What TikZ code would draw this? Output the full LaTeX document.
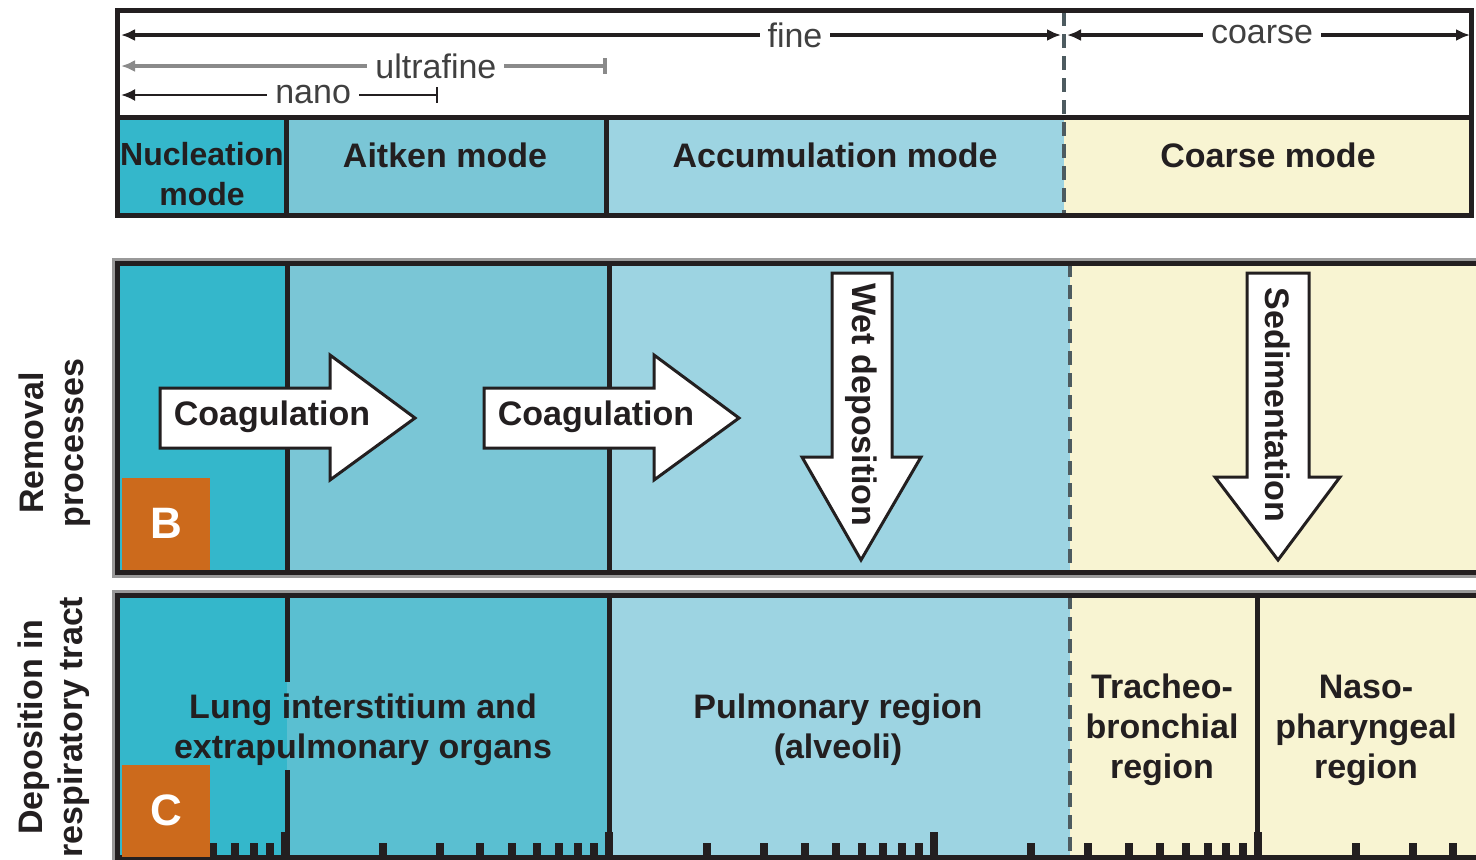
\documentclass[tikz,border=0pt]{standalone}
\usepackage{fontspec}
\setmainfont{Liberation Sans}
\usetikzlibrary{arrows.meta}
\definecolor{nucl}{HTML}{34B7CB}
\definecolor{aitken}{HTML}{7AC6D6}
\definecolor{aitkenC}{HTML}{5ABFD1}
\definecolor{accum}{HTML}{9DD4E2}
\definecolor{coarse}{HTML}{F8F4D2}
\definecolor{orng}{HTML}{CC6A1C}
\definecolor{ink}{HTML}{231F20}
\definecolor{dashgrey}{HTML}{4D5B60}
\definecolor{bargrey}{HTML}{8A8A8A}
\definecolor{edgegrey}{HTML}{999999}
\definecolor{txtgrey}{HTML}{404040}

\begin{document}
\begin{tikzpicture}[x=0.5pt,y=-0.5pt]
    \tikzset{%
      lbl/.style={font=\fontsize{17}{20}\selectfont\bfseries, text=ink,
        align=center, inner sep=0pt},
      scl/.style={font=\fontsize{17}{20}\selectfont, text=txtgrey,
        fill=white, inner sep=4pt},
      letter/.style={fill=orng, text=white, inner sep=0pt,
        font=\fontsize{22}{24}\selectfont\bfseries,
        minimum width=44pt, minimum height=46pt},
      frame/.style={draw=ink, line width=2.5pt},
      edge/.style={draw=edgegrey, line width=1.5pt},
      divider/.style={ink, line width=2.5pt},
      dashdiv/.style={dashgrey, line width=2pt, dash pattern=on 7pt off 4pt},
      block/.style={draw=ink, fill=white, line width=1.5pt, line join=miter},
      tick/.style={ink, line width=4pt},
    }
    \useasboundingbox (0,0) rectangle (1476,859);

    % size classes
    \fill[nucl] (117,117) rectangle (286,215);
    \fill[aitken] (286,117) rectangle (606,215);
    \fill[accum] (606,117) rectangle (1064,215);
    \fill[coarse] (1064,117) rectangle (1471,215);
    \draw[divider] (286,117) -- (286,215);
    \draw[divider] (606,117) -- (606,215);
    \draw[dashdiv] (1064,12) -- (1064,215);
    \draw[frame] (117,10) rectangle (1471,215);
    \draw[frame] (117,117) -- (1471,117);

    \coordinate (fineL) at (121,35);
    \coordinate (fineR) at (1061,35);
    \coordinate (coarseL) at (1067,35);
    \coordinate (coarseR) at (1470,35);
    \coordinate (ufL) at (121,66);
    \coordinate (ufR) at (607,66);
    \coordinate (nanoL) at (121,95);
    \coordinate (nanoR) at (438,95);
    \draw [ink, line width=2pt, {Latex[length=7pt,width=6pt]}-{Latex[length=7pt,width=6pt]}]
      (fineL) -- (fineR) node[scl, pos=0.717] (fine) {fine};
    \draw [ink, line width=2pt, {Latex[length=7pt,width=6pt]}-{Latex[length=7pt,width=6pt]}]
      (coarseL) -- (coarseR) node[scl, pos=0.484] (coarsetxt) {coarse};
    \draw [bargrey, line width=2pt, {Latex[length=7pt,width=6pt]}-{Bar[width=8pt]}]
      (ufL) -- (ufR) node[scl, pos=0.648] (ultrafine) {ultrafine};
    \draw [ink, line width=1.2pt, {Latex[length=7pt,width=6pt]}-{Bar[width=8pt]}]
      (nanoL) -- (nanoR) node[scl, pos=0.606] (nano) {nano};

    \node[lbl, font=\fontsize{16}{20}\selectfont\bfseries] (nucleation) at (202,174) {Nucleation\\mode};
    \node[lbl] (aitkenmode) at (445,155) {Aitken mode};
    \node[lbl] (accummode) at (835,155) {Accumulation mode};
    \node[lbl] (coarsemode) at (1268,155) {Coarse mode};

    % removal processes
    \fill[nucl] (117,263) rectangle (287,572);
    \fill[aitken] (287,263) rectangle (609,572);
    \fill[accum] (609,263) rectangle (1070,572);
    \fill[coarse] (1070,263) rectangle (1480,572);
    \draw[divider] (287,263) -- (287,572);
    \draw[divider] (609,263) -- (609,572);
    \draw[dashdiv] (1070,263) -- (1070,572);
    \draw[edge] (113,259) rectangle (1484,576);
    \draw[frame] (117,263) rectangle (1480,572);
    \node[letter, anchor=south west] (B) at (122,570) {B};

    \draw[block] (160,388) -- (330,388) -- (330,355) -- (415,418)
      -- (330,480) -- (330,448) -- (160,448) -- cycle;
    \node[lbl] (coag1) at (272,417) {Coagulation};
    \draw[block] (484,388) -- (654,388) -- (654,355) -- (739,418)
      -- (654,480) -- (654,448) -- (484,448) -- cycle;
    \node[lbl] (coag2) at (596,417) {Coagulation};
    \draw[block] (832,273) -- (892,273) -- (892,457) -- (921,457)
      -- (861,560) -- (802,457) -- (832,457) -- cycle;
    \node[lbl, rotate=-90] (wet) at (861,405) {Wet deposition};
    \draw[block] (1247,273) -- (1309,273) -- (1309,477) -- (1340,477)
      -- (1278,560) -- (1215,477) -- (1247,477) -- cycle;
    \node[lbl, rotate=-90] (sed) at (1278,405) {Sedimentation};

    % deposition
    \fill[nucl] (117,595) rectangle (287,857);
    \fill[aitkenC] (287,595) rectangle (609,857);
    \fill[accum] (609,595) rectangle (1070,857);
    \fill[coarse] (1070,595) rectangle (1480,857);
    \foreach \m in {6,...,9}{
      \draw[tick] ({285+324.3*(log10(\m)-1)},843) -- ++(0,14);
    }
    \foreach \k in {0,1,2,3}{
      \foreach \m in {2,...,9}{
        \draw[tick] ({285+324.3*(\k+log10(\m))},843) -- ++(0,14);
      }
      \draw[tick] ({285+324.3*\k},832) -- ++(0,25);
    }
    \draw[divider] (287,595) -- (287,682);
    \draw[divider] (287,770) -- (287,857);
    \draw[divider] (609,595) -- (609,857);
    \draw[dashdiv] (1070,595) -- (1070,857);
    \draw[divider] (1257,595) -- (1257,857);
    \draw[edge] (113,591) rectangle (1484,861);
    \draw[frame] (117,595) rectangle (1480,857);
    \node[letter, anchor=south west] (C) at (122,857) {C};

    \node[lbl] (lung) at (363,730) {Lung interstitium and\\extrapulmonary organs};
    \node[lbl] (pulm) at (838,730) {Pulmonary region\\(alveoli)};
    \node[lbl] (trach) at (1162,730) {Tracheo-\\bronchial\\region};
    \node[lbl] (naso) at (1366,730) {Naso-\\pharyngeal\\region};

    \node[lbl, rotate=90] (removal) at (55,443) {Removal\\processes};
    \node[lbl, rotate=90] (deposition) at (54,727) {Deposition in\\respiratory tract};
\end{tikzpicture}
\end{document}
